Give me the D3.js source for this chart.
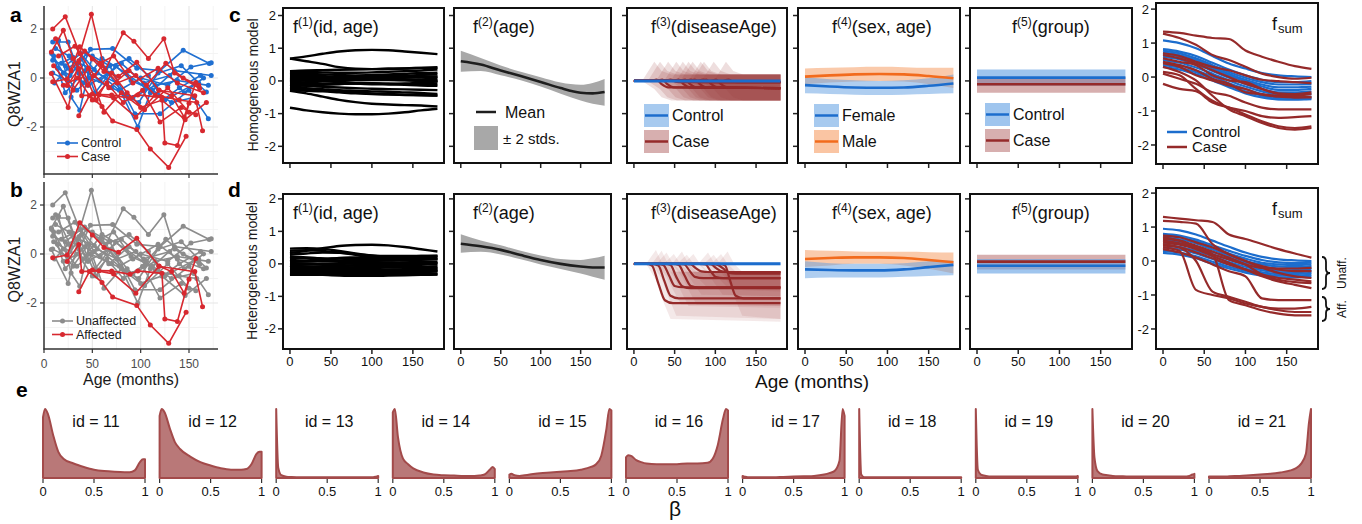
<!DOCTYPE html>
<html><head><meta charset="utf-8">
<script src="https://cdn.jsdelivr.net/npm/d3@7"></script>
<style>body{margin:0;background:#fff} svg text{font-family:"Liberation Sans",Arial,Helvetica,sans-serif}</style>
</head><body><svg id="chart" width="1362" height="524"></svg>
<script>
// ---------------- DATA ----------------
// panel a/b raw measurements [age, value]
const controlSeries = [
 [[9,1.47],[25,1.47],[36,0.2],[48,1.17],[71,1.2],[96,0.4],[120,0.3],[144,1.13],[171,0.59]],
 [[15,1.54],[28,-0.78],[37,-1.32],[50,0.9],[68,0.5],[94,-1.46],[120,-1.46],[150,-0.5],[170,-1.66]],
 [[9,0.72],[22,0.5],[38,1.0],[55,0.2],[75,-0.2],[97,-2.0],[110,-0.6],[135,0.3],[173,0.1]],
 [[9,0.2],[24,-0.1],[36,0.6],[52,0.35],[78,-0.5],[100,0.0],[128,-0.3],[152,0.45],[173,0.62]],
 [[12,1.2],[26,0.9],[40,-0.2],[60,0.8],[85,0.2],[105,-0.4],[125,-0.9],[158,-0.2],[168,-0.57]],
 [[10,0.9],[22,-0.6],[42,0.3],[58,-0.1],[80,0.6],[103,-0.2],[130,0.1],[145,-0.6],[165,0.0]],
 [[14,0.4],[27,0.1],[44,1.0],[64,0.4],[88,0.8],[108,0.1],[123,-0.9],[140,-0.4],[162,0.1]],
 [[8,1.0],[20,0.2],[34,-0.5],[48,0.0],[70,-0.4],[92,-0.8],[115,-0.3],[138,-0.1],[170,-0.3]],
 [[18,0.6],[30,0.85],[46,-0.3],[66,0.2],[84,-0.7],[98,-1.0],[118,0.2],[142,0.5],[160,-0.2]],
 [[11,-0.2],[25,0.4],[39,0.8],[53,-0.6],[74,0.5],[90,-0.1],[112,-0.5],[132,-1.0],[155,-0.8]]
];
const caseUnaffSeries = [
 [[9,2.0],[22,2.5],[37,1.0],[49,2.6],[63,0.3],[82,1.85],[93,1.5],[108,0.8],[124,1.6],[135,0.2],[161,-0.43]],
 [[7.6,1.06],[20,1.95],[30,0.8],[45,-0.3],[60,0.5],[76,-0.2],[95,0.1],[115,-0.7],[140,-0.9],[158,-1.0]],
 [[7.6,0.18],[25,-1.2],[36,0.7],[54,-0.9],[70,0.2],[86,-0.6],[104,-1.3],[128,-0.4],[150,-1.4]],
 [[12,1.6],[28,0.3],[42,1.1],[58,0.6],[72,0.9],[92,-0.2],[118,0.4],[138,-0.2],[165,-0.6]],
 [[10,0.5],[30,-0.5],[46,0.4],[62,-1.4],[80,-0.6],[100,-1.2],[122,-0.9],[146,-1.7],[168,-1.0]],
 [[15,0.9],[32,1.3],[52,0.1],[67,-0.4],[88,0.3],[106,-0.3],[126,0.6],[144,0.0],[160,-0.3]],
 [[20,-0.3],[35,0.0],[50,-0.9],[65,-0.2],[82,-1.0],[102,-0.5],[120,-1.8],[142,-1.2],[157,-1.5]]
];
const caseAffSeries = [
 [[9,-0.15],[24,-0.04],[37,1.28],[50,0.78],[62,0.27],[77,0.07],[96,0.64],[119,-0.49],[132,-0.72],[145,-1.6],[157,-0.18]],
 [[24,-0.31],[36,0.39],[39,-0.72],[57,-0.68],[70,-0.69],[89,-0.83],[97,-0.69],[122,-0.79],[125,-2.65],[138,-2.76],[150,-1.03]],
 [[36,-1.54],[47,-0.72],[60,-1.16],[71,-1.76],[96,-2.1],[110,-2.9],[129,-3.65],[147,-2.38]],
 [[50,-0.65],[72,-0.82],[95,-1.6],[119,-0.5],[156,-0.72],[164,-2.15]]
];

const AGES10 = [0,20,40,60,80,100,120,140,160,180];
const ageTicks = [0,50,100,150];
const compYTicks = [-2,-1,0,1,2];

// f1 per-individual curves at AGES10
const homF1 = [
 [0.68,0.75,0.83,0.9,0.94,0.95,0.94,0.9,0.86,0.82],
 [0.68,0.6,0.52,0.42,0.37,0.36,0.37,0.38,0.4,0.4],
 [-0.82,-0.9,-0.96,-1.0,-1.02,-1.02,-1.0,-0.96,-0.9,-0.85],
 [-0.3,-0.38,-0.48,-0.58,-0.65,-0.7,-0.72,-0.74,-0.75,-0.78],
 [0.27,0.27,0.26,0.25,0.25,0.26,0.28,0.3,0.32,0.35],
 [0.25,0.22,0.2,0.18,0.17,0.18,0.2,0.22,0.24,0.25],
 [0.2,0.18,0.15,0.12,0.1,0.1,0.12,0.15,0.18,0.2],
 [0.12,0.1,0.08,0.06,0.05,0.06,0.08,0.1,0.12,0.14],
 [0.05,0.06,0.08,0.1,0.12,0.13,0.13,0.12,0.1,0.08],
 [0.0,0.02,0.03,0.04,0.05,0.05,0.04,0.03,0.01,0.0],
 [-0.05,-0.04,-0.02,0.0,0.02,0.03,0.03,0.02,0.0,-0.02],
 [-0.1,-0.1,-0.09,-0.08,-0.07,-0.07,-0.08,-0.09,-0.1,-0.1],
 [-0.15,-0.14,-0.12,-0.1,-0.08,-0.08,-0.1,-0.12,-0.14,-0.15],
 [0.08,0.05,0.0,-0.04,-0.08,-0.1,-0.1,-0.08,-0.05,-0.02],
 [-0.2,-0.22,-0.25,-0.28,-0.3,-0.32,-0.33,-0.35,-0.37,-0.4],
 [-0.28,-0.3,-0.32,-0.35,-0.38,-0.4,-0.42,-0.43,-0.44,-0.45],
 [-0.25,-0.25,-0.28,-0.32,-0.35,-0.38,-0.4,-0.42,-0.43,-0.45],
 [0.3,0.32,0.33,0.34,0.35,0.36,0.37,0.38,0.4,0.42],
 [-0.02,0.02,0.06,0.1,0.12,0.14,0.15,0.15,0.14,0.12],
 [0.15,0.14,0.12,0.1,0.08,0.07,0.06,0.05,0.04,0.02],
 [-0.12,-0.15,-0.18,-0.2,-0.22,-0.24,-0.25,-0.26,-0.27,-0.28]
];
const hetF1 = [
 [0.33,0.4,0.48,0.55,0.58,0.59,0.57,0.52,0.45,0.38],
 [0.47,0.48,0.46,0.4,0.32,0.26,0.24,0.24,0.24,0.24],
 [0.4,0.42,0.4,0.35,0.28,0.22,0.2,0.22,0.24,0.25],
 [0.28,0.32,0.35,0.34,0.3,0.25,0.2,0.17,0.15,0.15],
 [0.18,0.18,0.17,0.16,0.15,0.15,0.16,0.18,0.2,0.22],
 [0.12,0.1,0.09,0.08,0.08,0.09,0.1,0.12,0.13,0.14],
 [0.06,0.07,0.08,0.1,0.12,0.13,0.12,0.1,0.08,0.06],
 [0.02,0.01,0.0,0.0,0.01,0.02,0.03,0.04,0.04,0.03],
 [-0.03,-0.02,0.0,0.02,0.04,0.05,0.04,0.02,0.0,-0.02],
 [-0.07,-0.08,-0.08,-0.07,-0.05,-0.04,-0.04,-0.05,-0.07,-0.08],
 [-0.1,-0.09,-0.07,-0.05,-0.04,-0.04,-0.06,-0.08,-0.1,-0.12],
 [-0.14,-0.14,-0.13,-0.12,-0.1,-0.1,-0.11,-0.12,-0.13,-0.14],
 [-0.18,-0.17,-0.16,-0.15,-0.15,-0.16,-0.17,-0.18,-0.18,-0.18],
 [-0.22,-0.2,-0.18,-0.18,-0.19,-0.2,-0.21,-0.22,-0.22,-0.21],
 [-0.26,-0.26,-0.25,-0.24,-0.24,-0.25,-0.26,-0.26,-0.25,-0.24],
 [-0.3,-0.3,-0.29,-0.28,-0.28,-0.29,-0.3,-0.3,-0.3,-0.3],
 [-0.34,-0.34,-0.33,-0.32,-0.32,-0.33,-0.34,-0.34,-0.33,-0.32],
 [-0.3,-0.32,-0.34,-0.36,-0.37,-0.37,-0.36,-0.35,-0.34,-0.33],
 [0.22,0.2,0.16,0.1,0.04,0.0,-0.02,-0.02,0.0,0.02],
 [-0.05,-0.1,-0.15,-0.2,-0.24,-0.26,-0.27,-0.26,-0.24,-0.2],
 [0.08,0.1,0.14,0.18,0.2,0.22,0.22,0.2,0.18,0.16]
];

// f2 shared age effect
const F2_AGES = [0,25,50,75,100,125,150,165,180];
const homF2Mean = [0.6,0.5,0.32,0.15,-0.03,-0.22,-0.36,-0.38,-0.34];
const homF2Lo   = [0.28,0.3,0.17,0.02,-0.17,-0.39,-0.6,-0.7,-0.76];
const homF2Hi   = [0.92,0.7,0.47,0.28,0.11,-0.05,-0.12,-0.06,0.06];
const hetF2Mean = [0.62,0.54,0.43,0.27,0.12,0.0,-0.08,-0.11,-0.11];
const hetF2Lo   = [0.34,0.37,0.29,0.14,-0.02,-0.16,-0.3,-0.4,-0.49];
const hetF2Hi   = [0.91,0.72,0.57,0.4,0.26,0.15,0.12,0.17,0.25];

// f3 disease-age effect: lines [age,value], bands [age,lo,hi]
const homF3Lines = [
 [[0,0],[20,0],[28,0.04],[34,-0.1],[42,-0.2],[180,-0.22]],
 [[0,0],[27,0],[35,0.04],[41,-0.1],[49,-0.2],[180,-0.22]],
 [[0,0],[37,0],[45,0.04],[51,-0.02],[59,-0.04],[180,-0.04]],
 [[0,0],[47,0],[55,0.04],[61,-0.1],[69,-0.2],[180,-0.22]],
 [[0,0],[55,0],[63,0.04],[69,-0.1],[77,-0.2],[180,-0.22]],
 [[0,0],[62,0],[70,0.04],[76,-0.02],[84,-0.04],[180,-0.04]],
 [[0,0],[67,0],[75,0.04],[81,-0.1],[89,-0.2],[180,-0.22]],
 [[0,0],[77,0],[85,0.04],[91,-0.02],[99,-0.04],[180,-0.04]],
 [[0,0],[81,0],[89,0.04],[95,-0.1],[103,-0.2],[180,-0.22]],
 [[0,0],[93,0],[101,0.04],[107,-0.1],[115,-0.2],[180,-0.22]],
 [[0,0],[108,0],[116,0.04],[122,-0.02],[130,-0.04],[180,-0.04]]
];
const homF3Bands = [
 [[10,0,0],[25,-0.25,0.59],[34,-0.5,0.3],[46,-0.6,0.2],[180,-0.6,0.2]],
 [[17,0,0],[32,-0.25,0.59],[41,-0.5,0.3],[53,-0.6,0.2],[180,-0.6,0.2]],
 [[27,0,0],[42,-0.25,0.59],[51,-0.5,0.3],[63,-0.6,0.2],[180,-0.6,0.2]],
 [[37,0,0],[52,-0.25,0.59],[61,-0.5,0.3],[73,-0.6,0.2],[180,-0.6,0.2]],
 [[45,0,0],[60,-0.25,0.59],[69,-0.5,0.3],[81,-0.6,0.2],[180,-0.6,0.2]],
 [[52,0,0],[67,-0.25,0.59],[76,-0.5,0.3],[88,-0.6,0.2],[180,-0.6,0.2]],
 [[57,0,0],[72,-0.25,0.59],[81,-0.5,0.3],[93,-0.6,0.2],[180,-0.6,0.2]],
 [[67,0,0],[82,-0.25,0.59],[91,-0.5,0.3],[103,-0.6,0.2],[180,-0.6,0.2]],
 [[71,0,0],[86,-0.25,0.59],[95,-0.5,0.3],[107,-0.6,0.2],[180,-0.6,0.2]],
 [[83,0,0],[98,-0.25,0.59],[107,-0.5,0.3],[119,-0.6,0.2],[180,-0.6,0.2]],
 [[98,0,0],[113,-0.25,0.59],[122,-0.5,0.3],[134,-0.6,0.2],[180,-0.6,0.2]]
];
const hetF3Lines = [
 [[0,0],[15,0],[22,-0.05],[30,-0.6],[38,-1.12],[48,-1.21],[180,-1.21]],
 [[0,0],[22,0],[30,-0.05],[37,-0.5],[45,-0.98],[55,-1.06],[180,-1.06]],
 [[0,0],[28,0],[36,-0.03],[43,-0.35],[50,-0.68],[60,-0.72],[180,-0.72]],
 [[0,0],[38,0],[45,-0.03],[52,-0.4],[60,-0.7],[70,-0.75],[180,-0.75]],
 [[0,0],[48,0],[55,-0.03],[62,-0.35],[70,-0.68],[80,-0.72],[180,-0.72]],
 [[0,0],[55,0],[62,-0.02],[68,-0.2],[75,-0.4],[85,-0.44],[180,-0.44]],
 [[0,0],[62,0],[70,-0.02],[76,-0.13],[83,-0.23],[92,-0.25],[180,-0.25]],
 [[0,0],[80,0],[88,-0.02],[94,-0.22],[101,-0.41],[110,-0.44],[180,-0.44]],
 [[0,0],[88,0],[95,-0.02],[101,-0.13],[108,-0.23],[118,-0.25],[180,-0.25]],
 [[0,0],[105,0],[112,-0.05],[118,-0.5],[125,-0.98],[135,-1.06],[180,-1.06]],
 [[0,0],[96,0],[103,-0.03],[110,-0.15],[116,-0.28],[125,-0.3],[180,-0.3]]
];
const hetF3Bands = [
 [[15,0,0],[27,-0.5,0.43],[35,-1.1,0.0],[45,-1.7,-0.24],[180,-1.78,-0.24]],
 [[22,0,0],[34,-0.45,0.4],[42,-1.0,0.0],[52,-1.6,-0.24],[180,-1.7,-0.24]],
 [[28,0,0],[40,-0.4,0.35],[48,-0.8,0.0],[58,-1.25,-0.24],[180,-1.3,-0.24]],
 [[37,0,0],[49,-0.4,0.3],[57,-0.8,0.0],[67,-1.3,-0.24],[180,-1.35,-0.24]],
 [[47,0,0],[59,-0.4,0.38],[67,-0.8,0.0],[77,-1.25,-0.24],[180,-1.3,-0.24]],
 [[53,0,0],[65,-0.3,0.28],[73,-0.6,0.0],[83,-0.95,-0.24],[180,-1.0,-0.24]],
 [[61,0,0],[73,-0.25,0.3],[81,-0.5,0.0],[91,-0.75,-0.24],[180,-0.8,-0.24]],
 [[79,0,0],[91,-0.3,0.35],[99,-0.6,0.0],[109,-0.95,-0.24],[180,-1.0,-0.24]],
 [[86,0,0],[98,-0.25,0.28],[106,-0.5,0.0],[116,-0.75,-0.24],[180,-0.8,-0.24]],
 [[103,0,0],[115,-0.45,0.38],[123,-1.0,0.0],[133,-1.6,-0.24],[180,-1.7,-0.24]],
 [[95,0,0],[107,-0.25,0.3],[115,-0.55,0.0],[125,-0.8,-0.24],[180,-0.85,-0.24]]
];
const f3ControlBand = [[0,-0.04,0.04],[180,-0.04,0.04]];
const f3ControlLine = [[0,0],[180,0]];

// f4 sex effect
const F4_AGES = [0,30,60,90,120,150,180];
const homMale = [0.13,0.17,0.2,0.21,0.2,0.15,0.08];
const homMaleLo = [-0.1,-0.05,-0.02,0.0,-0.02,-0.1,-0.22];
const homMaleHi = [0.38,0.4,0.42,0.43,0.42,0.4,0.4];
const homFemale = [-0.13,-0.17,-0.2,-0.21,-0.2,-0.15,-0.08];
const homFemaleLo = [-0.38,-0.4,-0.42,-0.43,-0.42,-0.4,-0.38];
const homFemaleHi = [0.12,0.05,0.02,0.0,0.02,0.08,0.2];
const hetMale = [0.15,0.18,0.2,0.2,0.18,0.12,0.05];
const hetMaleLo = [-0.1,-0.05,0.0,0.0,-0.05,-0.15,-0.3];
const hetMaleHi = [0.43,0.4,0.38,0.37,0.37,0.36,0.35];
const hetFemale = [-0.17,-0.19,-0.2,-0.2,-0.17,-0.1,-0.03];
const hetFemaleLo = [-0.44,-0.42,-0.42,-0.42,-0.4,-0.37,-0.35];
const hetFemaleHi = [0.08,0.02,0.0,0.0,0.02,0.08,0.1];

// f5 group effect [mean, lo, hi]
const F5_AGES = [0,180];
const homGroupControl = [0.1,-0.15,0.35];
const homGroupCase = [-0.1,-0.36,0.12];
const hetGroupControl = [-0.06,-0.3,0.15];
const hetGroupCase = [0.07,-0.17,0.28];

// f_sum curves at AGES10
const homSumControl = [
 [1.08,1.0,0.85,0.62,0.4,0.25,0.12,0.05,0.02,0.0],
 [0.82,0.75,0.62,0.42,0.22,0.05,-0.08,-0.15,-0.15,-0.12],
 [0.78,0.7,0.55,0.35,0.15,-0.02,-0.15,-0.22,-0.22,-0.2],
 [0.72,0.65,0.5,0.3,0.1,-0.08,-0.22,-0.3,-0.3,-0.28],
 [0.68,0.6,0.45,0.25,0.05,-0.12,-0.28,-0.38,-0.38,-0.35],
 [0.6,0.52,0.38,0.18,-0.02,-0.2,-0.35,-0.45,-0.45,-0.42],
 [0.5,0.42,0.28,0.1,-0.1,-0.28,-0.42,-0.52,-0.52,-0.5],
 [0.42,0.35,0.2,0.02,-0.18,-0.35,-0.5,-0.6,-0.6,-0.58],
 [0.35,0.28,0.14,-0.05,-0.25,-0.42,-0.55,-0.65,-0.66,-0.65],
 [0.3,0.22,0.08,-0.1,-0.3,-0.48,-0.6,-0.66,-0.66,-0.62]
];
const homSumCase = [
 [1.34,1.3,1.22,1.15,1.12,0.78,0.6,0.45,0.32,0.24],
 [1.28,1.15,0.95,0.65,0.5,0.3,0.1,0.0,-0.05,-0.02],
 [0.7,0.62,0.45,0.3,0.2,0.05,-0.08,-0.12,-0.15,-0.18],
 [0.65,0.55,0.4,0.2,0.0,-0.2,-0.35,-0.48,-0.5,-0.45],
 [0.55,0.45,0.35,0.05,-0.1,-0.15,-0.35,-0.5,-0.6,-0.6],
 [0.45,0.35,0.2,-0.05,-0.2,-0.45,-0.5,-0.55,-0.55,-0.5],
 [0.4,0.3,0.05,-0.1,-0.25,-0.35,-0.52,-0.58,-0.6,-0.58],
 [0.1,-0.05,-0.2,-0.45,-0.55,-0.75,-0.9,-0.95,-0.95,-0.95],
 [-0.2,-0.35,-0.42,-0.75,-0.9,-1.0,-1.15,-1.2,-1.18,-1.15],
 [0.15,0.05,-0.35,-0.7,-0.9,-1.1,-1.3,-1.45,-1.5,-1.45],
 [0.3,0.15,-0.1,-0.55,-0.95,-1.15,-1.35,-1.5,-1.55,-1.5]
];
const hetSumControl = [
 [0.95,0.9,0.78,0.6,0.42,0.25,0.12,0.05,0.02,0.0],
 [0.8,0.75,0.63,0.46,0.3,0.15,0.03,-0.04,-0.06,-0.05],
 [0.75,0.7,0.58,0.4,0.22,0.07,-0.05,-0.1,-0.12,-0.1],
 [0.7,0.64,0.52,0.34,0.16,0.0,-0.1,-0.16,-0.18,-0.15],
 [0.62,0.56,0.44,0.27,0.1,-0.05,-0.16,-0.22,-0.23,-0.2],
 [0.55,0.5,0.38,0.2,0.04,-0.11,-0.22,-0.28,-0.28,-0.25],
 [0.48,0.42,0.3,0.14,-0.03,-0.17,-0.27,-0.33,-0.33,-0.3],
 [0.4,0.34,0.22,0.06,-0.1,-0.23,-0.33,-0.38,-0.38,-0.35],
 [0.3,0.25,0.14,-0.02,-0.17,-0.29,-0.38,-0.43,-0.43,-0.4],
 [0.24,0.19,0.08,-0.08,-0.22,-0.34,-0.43,-0.48,-0.48,-0.45]
];
const hetSumCase = [
 [1.3,1.25,1.2,1.15,0.78,0.65,0.5,0.35,0.22,0.1],
 [1.18,1.15,1.1,0.5,0.2,0.0,-0.15,-0.25,-0.3,-0.3],
 [0.75,0.7,0.55,0.4,0.2,0.0,-0.2,-0.35,-0.45,-0.5],
 [0.65,0.6,0.45,0.28,0.1,-0.1,-0.4,-0.55,-0.62,-0.65],
 [0.55,0.48,0.35,0.15,-0.05,-0.25,-0.45,-0.6,-0.7,-0.8],
 [0.45,0.4,0.25,0.08,-0.1,-0.25,-0.4,-0.5,-0.55,-0.6],
 [0.6,0.52,0.38,0.2,0.05,-0.1,-0.2,-0.22,-0.22,-0.2],
 [0.4,0.3,-0.85,-1.0,-1.1,-1.25,-1.35,-1.45,-1.5,-1.5],
 [0.5,0.4,0.0,-0.9,-1.05,-1.2,-1.35,-1.4,-1.4,-1.35],
 [0.7,0.6,0.4,0.2,-1.15,-1.3,-1.45,-1.55,-1.6,-1.6],
 [0.35,0.25,0.1,-0.1,-0.3,-0.45,-1.1,-1.15,-1.15,-1.15]
];

// panel e: posterior densities of beta (relative height)
const BETA = [0,0.02,0.05,0.1,0.15,0.2,0.3,0.4,0.5,0.6,0.7,0.8,0.85,0.9,0.95,0.98,1];
const betaIds = [11,12,13,14,15,16,17,18,19,20,21];
const betaTicks = [0,0.5,1];
const betaDensity = [
 [0.88,1.0,0.92,0.62,0.38,0.28,0.21,0.16,0.12,0.1,0.09,0.085,0.085,0.11,0.23,0.27,0.27],
 [0.9,1.0,0.95,0.72,0.52,0.42,0.31,0.23,0.18,0.14,0.12,0.12,0.13,0.2,0.35,0.38,0.38],
 [1.0,0.15,0.04,0.02,0.015,0.012,0.01,0.01,0.01,0.01,0.01,0.01,0.01,0.01,0.01,0.02,0.03],
 [0.95,1.0,0.6,0.28,0.2,0.14,0.08,0.05,0.04,0.035,0.03,0.03,0.035,0.05,0.12,0.16,0.13],
 [0.05,0.06,0.04,0.03,0.04,0.05,0.07,0.08,0.09,0.1,0.12,0.16,0.2,0.32,0.7,1.0,0.98],
 [0.3,0.33,0.32,0.26,0.23,0.21,0.2,0.2,0.2,0.21,0.21,0.22,0.28,0.48,0.85,1.0,0.98],
 [0.03,0.02,0.01,0.01,0.01,0.01,0.01,0.015,0.02,0.025,0.03,0.05,0.07,0.1,0.25,1.0,0.9],
 [1.0,0.05,0.01,0.01,0.01,0.01,0.01,0.01,0.01,0.01,0.01,0.01,0.01,0.01,0.01,0.01,0.01],
 [1.0,0.12,0.05,0.03,0.02,0.02,0.02,0.02,0.02,0.02,0.02,0.02,0.02,0.02,0.02,0.02,0.03],
 [1.0,0.3,0.1,0.05,0.04,0.03,0.025,0.02,0.02,0.02,0.02,0.02,0.02,0.02,0.03,0.05,0.06],
 [0.02,0.02,0.02,0.02,0.02,0.025,0.03,0.04,0.05,0.06,0.08,0.11,0.14,0.2,0.35,0.8,1.0]
];

// ---------------- DRAWING ----------------
const BLUE = '#1f6fd1', RED = '#d7282f', GRAY = '#8c8c8c';
const DRED = '#952a2a', LBLUE = '#1c6dcd', ORANGE = '#f26b1d';
const svg = d3.select('#chart');
const defs = svg.append('defs');
let clipN = 0;
function clip(x,y,w,h){const id='cl'+(clipN++);defs.append('clipPath').attr('id',id).append('rect').attr('x',x).attr('y',y).attr('width',w).attr('height',h);return `url(#${id})`;}
const zip = (ages, vals) => ages.map((a,i)=>[a, vals[i]]);

// ---- panels a / b ----
function rawPanel(top, bottom, ydom, groups, showXLabels, legend){
  const x = d3.scaleLinear([0,180],[44,218]);
  const y = d3.scaleLinear(ydom,[bottom,top]);
  const g = svg.append('g');
  d3.range(0,180,25).forEach(v=>g.append('line').attr('x1',x(v)).attr('x2',x(v)).attr('y1',top).attr('y2',bottom)
     .attr('stroke', v%50===0?'#e6e6e6':'#f1f1f1').attr('stroke-width', v%50===0?1.1:0.8));
  d3.range(-3,3,1).forEach(v=>g.append('line').attr('x1',44).attr('x2',218).attr('y1',y(v)).attr('y2',y(v))
     .attr('stroke', v%2===0?'#e6e6e6':'#f1f1f1').attr('stroke-width', v%2===0?1.1:0.8));
  const ln = d3.line().x(d=>x(d[0])).y(d=>y(d[1]));
  groups.forEach(gr=>{
    gr.series.forEach(s=>{
      g.append('path').attr('d',ln(s)).attr('fill','none').attr('stroke',gr.color).attr('stroke-width',1.6);
      s.forEach(p=>g.append('circle').attr('cx',x(p[0])).attr('cy',y(p[1])).attr('r',2.5).attr('fill',gr.color));
    });
  });
  g.append('line').attr('x1',44).attr('x2',44).attr('y1',top).attr('y2',bottom+0.5).attr('stroke','#333').attr('stroke-width',1.5);
  g.append('line').attr('x1',43.5).attr('x2',218).attr('y1',bottom).attr('y2',bottom).attr('stroke','#333').attr('stroke-width',1.5);
  [-2,0,2].forEach(v=>{
    g.append('line').attr('x1',40).attr('x2',44).attr('y1',y(v)).attr('y2',y(v)).attr('stroke','#333').attr('stroke-width',1.2);
    g.append('text').attr('x',37).attr('y',y(v)).attr('dy','0.35em').attr('text-anchor','end').attr('font-size',12).attr('fill','#4d4d4d').text(v);
  });
  ageTicks.forEach(v=>{
    g.append('line').attr('x1',x(v)).attr('x2',x(v)).attr('y1',bottom).attr('y2',bottom+4).attr('stroke','#333').attr('stroke-width',1.2);
    if(showXLabels) g.append('text').attr('x',x(v)).attr('y',bottom+19).attr('text-anchor','middle').attr('font-size',12).attr('fill','#4d4d4d').text(v);
  });
  legend.items.forEach((it,i)=>{
    const ly = legend.y + i*13.5;
    g.append('line').attr('x1',legend.x).attr('x2',legend.x+21).attr('y1',ly).attr('y2',ly).attr('stroke',it.color).attr('stroke-width',1.6);
    g.append('circle').attr('cx',legend.x+10.5).attr('cy',ly).attr('r',2.5).attr('fill',it.color);
    g.append('text').attr('x',legend.x+24).attr('y',ly).attr('dy','0.35em').attr('font-size',12.5).attr('fill','#1a1a1a').text(it.label);
  });
  g.append('text').attr('transform',`translate(14,${(top+bottom)/2+4}) rotate(-90)`).attr('text-anchor','middle').attr('dy','0.35em')
    .attr('font-size',16).attr('fill','#1a1a1a').text('Q8WZA1');
}
rawPanel(6,174,[-3.92,2.94],[{series:controlSeries,color:BLUE},{series:caseUnaffSeries,color:RED},{series:caseAffSeries,color:RED}],false,
  {x:57,y:143,items:[{label:'Control',color:BLUE},{label:'Case',color:RED}]});
rawPanel(182,349,[-3.88,2.94],[{series:controlSeries,color:GRAY},{series:caseUnaffSeries,color:GRAY},{series:caseAffSeries,color:RED}],true,
  {x:52,y:321,items:[{label:'Unaffected',color:GRAY},{label:'Affected',color:RED}]});
svg.append('text').attr('x',131).attr('y',385).attr('text-anchor','middle').attr('font-size',16).attr('fill','#1a1a1a').text('Age (months)');

// ---- component panels ----
function panel(left, top, bottom, ydom, width, opts){
  const x = d3.scaleLinear([-8.5,188],[left,left+width]);
  const y = d3.scaleLinear(ydom,[bottom,top]);
  const outer = svg.append('g');
  compYTicks.forEach(v=>{
    outer.append('line').attr('x1',left-5).attr('x2',left).attr('y1',y(v)).attr('y2',y(v)).attr('stroke','#222').attr('stroke-width',1.5);
    if(opts.yLabels) outer.append('text').attr('x',left-7).attr('y',y(v)).attr('dy','0.35em').attr('text-anchor','end').attr('font-size',13).attr('fill','#111').text(v);
  });
  ageTicks.forEach(v=>{
    outer.append('line').attr('x1',x(v)).attr('x2',x(v)).attr('y1',bottom).attr('y2',bottom+5).attr('stroke','#222').attr('stroke-width',1.5);
    if(opts.xLabels) outer.append('text').attr('x',x(v)).attr('y',366).attr('text-anchor','middle').attr('font-size',13).attr('fill','#111').text(v);
  });
  const g = outer.append('g').attr('clip-path',clip(left,top,width,bottom-top));
  return {x,y,g,frame(){outer.append('rect').attr('x',left).attr('y',top).attr('width',width).attr('height',bottom-top)
      .attr('fill','none').attr('stroke','#111').attr('stroke-width',2);}};
}
function title(x, yb, sup, rest){
  const t = svg.append('text').attr('x',x).attr('y',yb).attr('font-size',18).attr('fill','#111');
  t.append('tspan').text('f');
  t.append('tspan').attr('font-size',12).attr('dy',-7).text(sup);
  t.append('tspan').attr('dy',7).text(rest);
}
function sumTitle(x, yb){
  const t = svg.append('text').attr('x',x).attr('y',yb).attr('font-size',18).attr('fill','#111');
  t.append('tspan').text('f');
  t.append('tspan').attr('font-size',13).attr('dy',3).attr('dx',1).text('sum');
}
function boxKey(x, y, fill, stroke, label){
  svg.append('rect').attr('x',x).attr('y',y).attr('width',25).attr('height',23).attr('fill',fill);
  svg.append('line').attr('x1',x+1).attr('x2',x+24).attr('y1',y+11.5).attr('y2',y+11.5).attr('stroke',stroke).attr('stroke-width',2.5);
  svg.append('text').attr('x',x+28).attr('y',y+11.5).attr('dy','0.35em').attr('font-size',16).attr('fill','#111').text(label);
}
const mline = (p, curve) => d3.line().x(d=>p.x(d[0])).y(d=>p.y(d[1])).curve(curve||d3.curveMonotoneX);
const marea = (p, curve) => d3.area().x(d=>p.x(d[0])).y0(d=>p.y(d[1])).y1(d=>p.y(d[2])).curve(curve||d3.curveMonotoneX);

const LEFTS = [283,454,627,798,970], WIDTHS = [161,157,160,162,162];
const rows = [
  {top:8,bottom:163,ydom:[-2.51,2.23],sumTop:3,sumBottom:164,sumDom:[-2.56,2.18],xLabels:false,
   f1:homF1,f2:[homF2Mean,homF2Lo,homF2Hi],f3L:homF3Lines,f3B:homF3Bands,f3Alpha:0.17,
   male:[homMale,homMaleLo,homMaleHi],female:[homFemale,homFemaleLo,homFemaleHi],
   grp:{control:homGroupControl,cs:homGroupCase},sumC:homSumControl,sumK:homSumCase,hom:true},
  {top:194,bottom:349,ydom:[-2.62,2.15],sumTop:188,sumBottom:349,sumDom:[-2.59,2.15],xLabels:true,
   f1:hetF1,f2:[hetF2Mean,hetF2Lo,hetF2Hi],f3L:hetF3Lines,f3B:hetF3Bands,f3Alpha:0.11,
   male:[hetMale,hetMaleLo,hetMaleHi],female:[hetFemale,hetFemaleLo,hetFemaleHi],
   grp:{control:hetGroupControl,cs:hetGroupCase},sumC:hetSumControl,sumK:hetSumCase,hom:false}
];

rows.forEach(r=>{
  // f1
  const p1 = panel(LEFTS[0],r.top,r.bottom,r.ydom,WIDTHS[0],{yLabels:true,xLabels:r.xLabels});
  r.f1.forEach(v=>p1.g.append('path').attr('d',mline(p1)(zip(AGES10,v))).attr('fill','none').attr('stroke','#000').attr('stroke-width',2.4));
  p1.frame();
  title(293,r.top+25,'(1)','(id, age)');
  // f2
  const p2 = panel(LEFTS[1],r.top,r.bottom,r.ydom,WIDTHS[1],{xLabels:r.xLabels});
  p2.g.append('path').attr('d',marea(p2)(F2_AGES.map((a,i)=>[a,r.f2[1][i],r.f2[2][i]]))).attr('fill','#a8a8a8');
  p2.g.append('path').attr('d',mline(p2)(zip(F2_AGES,r.f2[0]))).attr('fill','none').attr('stroke','#1e1e1e').attr('stroke-width',2.6);
  p2.frame();
  title(473,r.top+25,'(2)','(age)');
  // f3
  const p3 = panel(LEFTS[2],r.top,r.bottom,r.ydom,WIDTHS[2],{xLabels:r.xLabels});
  p3.g.append('path').attr('d',marea(p3,d3.curveLinear)(f3ControlBand)).attr('fill','rgba(110,165,230,0.35)');
  r.f3B.forEach(b=>p3.g.append('path').attr('d',marea(p3,d3.curveLinear)(b)).attr('fill','#9a3a3a').attr('fill-opacity',r.f3Alpha));
  r.f3L.forEach(l=>p3.g.append('path').attr('d',mline(p3)(l)).attr('fill','none').attr('stroke',DRED).attr('stroke-width',2.2));
  p3.g.append('path').attr('d',mline(p3,d3.curveLinear)(f3ControlLine)).attr('fill','none').attr('stroke',LBLUE).attr('stroke-width',3);
  p3.frame();
  title(651,r.top+25,'(3)','(diseaseAge)');
  // f4
  const p4 = panel(LEFTS[3],r.top,r.bottom,r.ydom,WIDTHS[3],{xLabels:r.xLabels});
  p4.g.append('path').attr('d',marea(p4)(F4_AGES.map((a,i)=>[a,r.male[1][i],r.male[2][i]]))).attr('fill','rgba(246,150,88,0.5)');
  p4.g.append('path').attr('d',marea(p4)(F4_AGES.map((a,i)=>[a,r.female[1][i],r.female[2][i]]))).attr('fill','rgba(95,158,226,0.5)');
  p4.g.append('path').attr('d',mline(p4)(zip(F4_AGES,r.male[0]))).attr('fill','none').attr('stroke',ORANGE).attr('stroke-width',2.6);
  p4.g.append('path').attr('d',mline(p4)(zip(F4_AGES,r.female[0]))).attr('fill','none').attr('stroke',LBLUE).attr('stroke-width',2.6);
  p4.frame();
  title(832,r.top+25,'(4)','(sex, age)');
  // f5
  const p5 = panel(LEFTS[4],r.top,r.bottom,r.ydom,WIDTHS[4],{xLabels:r.xLabels});
  const gc = r.grp.control, gk = r.grp.cs;
  const bandC = F5_AGES.map(a=>[a,gc[1],gc[2]]), bandK = F5_AGES.map(a=>[a,gk[1],gk[2]]);
  if(r.hom){
    p5.g.append('path').attr('d',marea(p5,d3.curveLinear)(bandC)).attr('fill','rgba(95,158,226,0.6)');
    p5.g.append('path').attr('d',marea(p5,d3.curveLinear)(bandK)).attr('fill','rgba(175,95,95,0.5)');
  } else {
    p5.g.append('path').attr('d',marea(p5,d3.curveLinear)(bandK)).attr('fill','rgba(175,95,95,0.5)');
    p5.g.append('path').attr('d',marea(p5,d3.curveLinear)(bandC)).attr('fill','rgba(95,158,226,0.6)');
  }
  p5.g.append('path').attr('d',mline(p5,d3.curveLinear)(F5_AGES.map(a=>[a,gk[0]]))).attr('fill','none').attr('stroke',DRED).attr('stroke-width',2.6);
  p5.g.append('path').attr('d',mline(p5,d3.curveLinear)(F5_AGES.map(a=>[a,gc[0]]))).attr('fill','none').attr('stroke',LBLUE).attr('stroke-width',2.6);
  p5.frame();
  title(1012,r.top+25,'(5)','(group)');
  // f_sum
  const p6 = panel(1156,r.sumTop,r.sumBottom,r.sumDom,162,{yLabels:true,xLabels:r.xLabels});
  r.sumC.forEach(v=>p6.g.append('path').attr('d',mline(p6)(zip(AGES10,v))).attr('fill','none').attr('stroke',LBLUE).attr('stroke-width',2.2));
  r.sumK.forEach(v=>p6.g.append('path').attr('d',mline(p6)(zip(AGES10,v))).attr('fill','none').attr('stroke',DRED).attr('stroke-width',2.2));
  p6.frame();
  sumTitle(1272,r.sumTop+27);
});

// legends (row c)
svg.append('line').attr('x1',476).attr('x2',496).attr('y1',112).attr('y2',112).attr('stroke','#1e1e1e').attr('stroke-width',2.5);
svg.append('text').attr('x',505).attr('y',112).attr('dy','0.35em').attr('font-size',16).attr('fill','#111').text('Mean');
svg.append('rect').attr('x',474).attr('y',126).attr('width',24).attr('height',24).attr('fill','#a8a8a8');
svg.append('text').attr('x',503).attr('y',139).attr('dy','0.35em').attr('font-size',15).attr('fill','#111').text('± 2 stds.');
boxKey(644,104,'rgba(95,158,226,0.55)',LBLUE,'Control');
boxKey(644,130,'rgba(175,95,95,0.5)',DRED,'Case');
boxKey(814,104,'rgba(95,158,226,0.55)',LBLUE,'Female');
boxKey(814,130,'rgba(246,150,88,0.55)',ORANGE,'Male');
boxKey(985,103,'rgba(95,158,226,0.6)',LBLUE,'Control');
boxKey(985,129,'rgba(175,95,95,0.5)',DRED,'Case');
[['Control',LBLUE,132],['Case',DRED,147]].forEach(([lab,col,yy])=>{
  svg.append('line').attr('x1',1167).attr('x2',1187).attr('y1',yy).attr('y2',yy).attr('stroke',col).attr('stroke-width',2.5);
  svg.append('text').attr('x',1192).attr('y',yy).attr('dy','0.35em').attr('font-size',15).attr('fill','#111').text(lab);
});

// braces in het f_sum
function brace(x, y1, y2, label){
  const w=4, m=(y1+y2)/2;
  svg.append('path').attr('d',`M${x},${y1} Q${x+w},${y1} ${x+w},${y1+5} L${x+w},${m-4} Q${x+w},${m} ${x+2*w},${m} Q${x+w},${m} ${x+w},${m+4} L${x+w},${y2-5} Q${x+w},${y2} ${x},${y2}`)
    .attr('fill','none').attr('stroke','#111').attr('stroke-width',1.8);
  svg.append('text').attr('transform',`translate(${x+20},${m}) rotate(-90)`).attr('text-anchor','middle').attr('dy','0.35em')
    .attr('font-size',12).attr('fill','#111').text(label);
}
brace(1322,257,289,'Unaff.');
brace(1322,297,321,'Aff.');

// row titles
svg.append('text').attr('transform','translate(253,85) rotate(-90)').attr('text-anchor','middle').attr('dy','0.35em').attr('font-size',14).attr('fill','#1a1a1a').text('Homogeneous model');
svg.append('text').attr('transform','translate(252,271) rotate(-90)').attr('text-anchor','middle').attr('dy','0.35em').attr('font-size',14).attr('fill','#1a1a1a').text('Heterogeneous model');
svg.append('text').attr('x',812).attr('y',388).attr('text-anchor','middle').attr('font-size',19).attr('fill','#111').text('Age (months)');

// ---- panel e ----
betaIds.forEach((id,i)=>{
  const x0 = 43 + i*116.6;
  const x = d3.scaleLinear([0,1],[x0,x0+102]);
  const y = d3.scaleLinear([0,1],[478,409]);
  const pts = BETA.map((b,j)=>[b,betaDensity[i][j]]);
  const area = d3.area().x(d=>x(d[0])).y0(y(0)).y1(d=>y(d[1])).curve(d3.curveMonotoneX);
  svg.append('path').attr('d',area(pts)).attr('fill','#b97878').attr('stroke','#a34a4a').attr('stroke-width',2).attr('stroke-linejoin','round');
  betaTicks.forEach(t=>{
    svg.append('line').attr('x1',x(t)).attr('x2',x(t)).attr('y1',479).attr('y2',483).attr('stroke','#333').attr('stroke-width',1.2);
    svg.append('text').attr('x',x(t)).attr('y',496).attr('text-anchor','middle').attr('font-size',13).attr('fill','#111').text(t);
  });
  svg.append('text').attr('x',x0+53).attr('y',427).attr('text-anchor','middle').attr('font-size',16).attr('fill','#111').text('id = '+id);
});
svg.append('text').attr('x',675).attr('y',516).attr('text-anchor','middle').attr('font-size',21).attr('font-family','"Liberation Serif","DejaVu Serif",serif').attr('fill','#111').text('β');

// panel letters
[['a',10,22],['b',10,197],['c',229,22],['d',228,197],['e',16,397]].forEach(([t,x,y])=>
  svg.append('text').attr('x',x).attr('y',y).attr('font-size',21).attr('font-weight','bold').attr('font-family','"DejaVu Sans",sans-serif').attr('fill','#000').text(t));
</script>
</body></html>
